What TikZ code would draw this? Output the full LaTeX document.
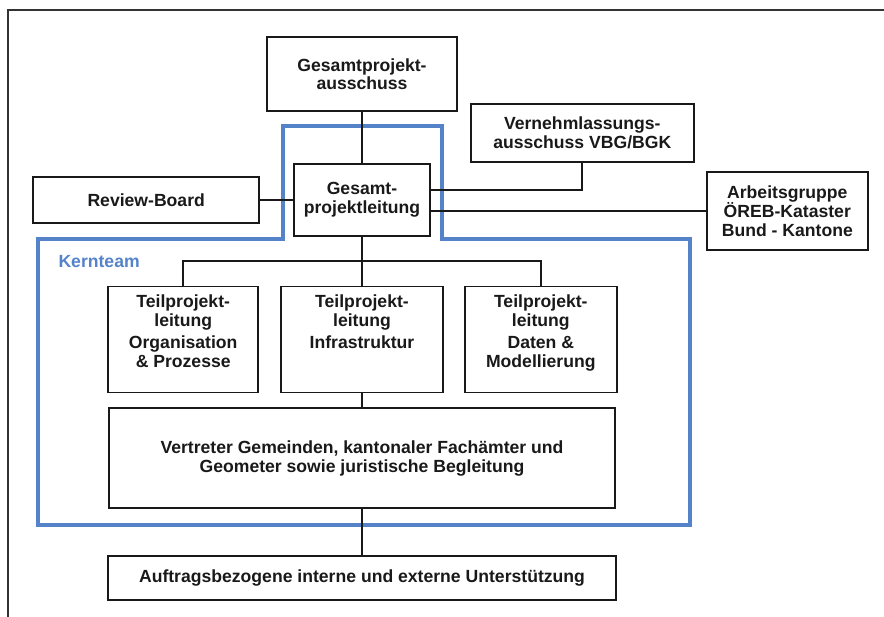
\documentclass[tikz,border=0pt]{standalone}
\usepackage{fontspec}
\setmainfont{Liberation Sans}
\usetikzlibrary{positioning, calc}
\definecolor{kernblau}{RGB}{84,131,201}

\begin{document}
\begin{tikzpicture}[x=1pt, y=1pt,
    every node/.style={font=\fontsize{17.6}{18.2}\selectfont\bfseries, text=black!90},
    box/.style={rectangle, draw=black!90, line width=1.8pt, align=center, inner sep=0pt},
    tptext/.style={align=center, inner sep=0pt, font=\fontsize{17.6}{19}\selectfont\bfseries},
    link/.style={draw=black!90, line width=1.8pt}]
    \useasboundingbox (0,0) rectangle (884,-617);
    \draw[line width=1.2pt, black!80] (8,-617) -- (8,-10) -- (884,-10);

    % Kernteam frame
    \draw[kernblau, line width=4.5pt] (283,-126) -- (442,-126) -- (442,-239) -- (690,-239) -- (690,-525) -- (38,-525) -- (38,-239) -- (283,-239) -- cycle;
    \node[anchor=west, text=kernblau] (kernteam) at (55,-262) {Kernteam};

    \node[box, minimum width=190pt, minimum height=74pt] (gpa) at (362,-74) {Gesamtprojekt-\\ausschuss};
    \node[box, minimum width=136pt, minimum height=72pt, below=51pt of gpa] (gpl) {Gesamt-\\projektleitung};
    \node[box, minimum width=226pt, minimum height=46pt, left=33pt of gpl] (review) {Review-Board};
    \node[box, minimum width=223pt, minimum height=58pt, below right=-9pt and 12pt of gpa] (vbg) {Vernehmlassungs-\\ausschuss VBG/BGK};
    \node[box, minimum width=161pt, minimum height=78pt, right=275pt of gpl, yshift=-11pt] (oereb) {Arbeitsgruppe\\ÖREB-Kataster\\Bund - Kantone};

    % Teilprojekte
    \node[box, minimum width=162pt, minimum height=106pt, below=49pt of gpl] (tpInf) {};
    \node[box, minimum width=150pt, minimum height=106pt, left=21pt of tpInf] (tpOrg) {};
    \node[box, minimum width=152pt, minimum height=106pt, right=20pt of tpInf] (tpDat) {};
    \node[tptext, below=9pt of tpOrg.north] (tpOrgText) {Teilprojekt-\\leitung\\[3pt]Organisation\\\& Prozesse};
    \node[tptext, below=9pt of tpInf.north] (tpInfText) {Teilprojekt-\\leitung\\[3pt]Infrastruktur};
    \node[tptext, below=9pt of tpDat.north] (tpDatText) {Teilprojekt-\\leitung\\[3pt]Daten \&\\Modellierung};

    \node[box, minimum width=506pt, minimum height=100pt, below=14pt of tpInf] (vertreter) {Vertreter Gemeinden, kantonaler Fachämter und\\Geometer sowie juristische Begleitung};
    \node[box, minimum width=508pt, minimum height=44pt, below=46pt of vertreter] (auftrag) {Auftragsbezogene interne und externe Unterstützung};

    \path[link]
    (gpa) edge (gpl)
    (review) edge (gpl)
    (gpl) edge (tpInf)
    (tpInf) edge (vertreter)
    (vertreter) edge (auftrag);
    \draw[link] (vbg.south) |- ([yshift=10pt]gpl.east);
    \draw[link] (oereb.west) -- (oereb.west -| gpl.east);
    \draw[link] (tpOrg.north) |- ($(gpl.south)!.5!(tpInf.north)$) -| (tpDat.north);
\end{tikzpicture}
\end{document}
